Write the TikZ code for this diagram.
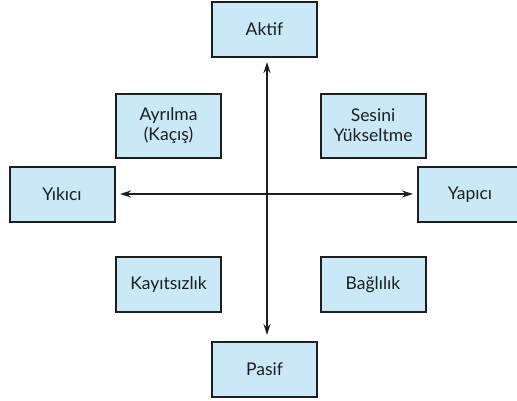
\documentclass[tikz,border=0pt]{standalone}
\usepackage{fontspec}
\setmainfont{Lato}
\usetikzlibrary{arrows.meta}
\definecolor{boxfill}{HTML}{C9E9F8}
\definecolor{ink}{HTML}{1E1E1E}
\begin{document}
\begin{tikzpicture}[x=1pt,y=-1pt,
  cell/.style={draw=ink, line width=2pt, fill=boxfill, minimum width=105pt,
    minimum height=55pt, inner sep=0pt, align=center, font=\fontsize{17.5}{20}\selectfont, text=ink},
  axis/.style={draw=ink, line width=1.4pt, {Stealth[length=11pt,width=7pt]}-{Stealth[length=11pt,width=7pt]}}]
\useasboundingbox (0,0) rectangle (517,400);
\node[cell] (aktif) at (264.5,29.5) {Aktif};
\node[cell] (pasif) at (264.5,369.5) {Pasif};
\node[cell] (yikici) at (62,194.5) {Yıkıcı};
\node[cell] (yapici) at (470,194.5) {Yapıcı};
\node[cell, minimum height=64pt] (ayrilma) at (168.5,125.5) {Ayrılma\\(Kaçış)};
\node[cell, minimum height=64pt] (sesini) at (373,125.5) {Sesini\\Yükseltme};
\node[cell] (kayitsiz) at (168.5,284.5) {Kayıtsızlık};
\node[cell] (baglilik) at (373,284.5) {Bağlılık};
\coordinate (top) at (267,62);
\coordinate (bot) at (267,335);
\coordinate (lft) at (120,194);
\coordinate (rgt) at (413,194);
\draw[axis] (bot) -- (top);
\draw[axis] (lft) -- (rgt);
\end{tikzpicture}
\end{document}
